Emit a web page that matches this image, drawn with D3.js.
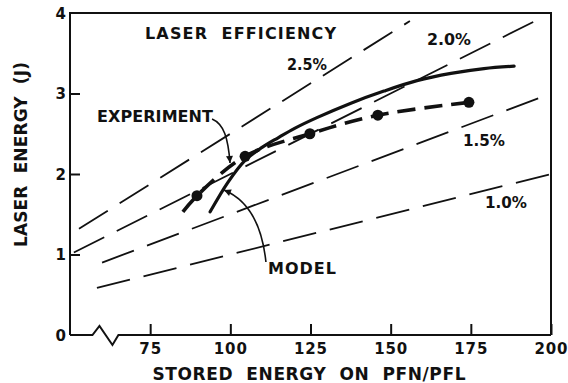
<!DOCTYPE html>
<html>
<head>
<meta charset="utf-8">
<script src="https://cdn.jsdelivr.net/npm/d3@7/dist/d3.min.js"></script>
<style>
  html, body { margin: 0; padding: 0; background: #fff; }
  svg { display: block; }
  text { font-family: "DejaVu Sans", "Liberation Sans", Arial, sans-serif; font-weight: bold; fill: #111; }
</style>
</head>
<body>
<svg id="chart" width="568" height="383"></svg>
<script>
// Stored energy on PFN/PFL (x) vs laser energy in joules (y)

// Constant-efficiency reference lines: E_laser = efficiency * E_stored
const efficiencies = [2.5, 2.0, 1.5, 1.0];          // percent
const effLabels    = ["2.5%", "2.0%", "1.5%", "1.0%"];
const effStart     = [52.8, 51.2, 60.0, 58.4];       // stored energy where each line begins
const effEnd       = [156.0, 196.5, 196.5, 200.0];   // stored energy where each line ends

// Measured points
const expStored = [89.6, 104.6, 124.8, 146.0, 174.4];
const expEnergy = [1.73, 2.22, 2.50, 2.73, 2.89];

// Dashed trend through the measurements (starts a little before the first point)
const expFitStored = [85.2, 89.6, 104.6, 124.8, 146.0, 174.4];
const expFitEnergy = [1.53, 1.73, 2.22, 2.50, 2.73, 2.89];

// Model prediction
const modelStored = [93.7, 99.3, 104.6, 109.9, 114.9, 120.2, 127.0, 137.6, 147.9, 158.2, 168.8, 179.1, 188.5];
const modelEnergy = [1.53, 1.90, 2.17, 2.33, 2.45, 2.57, 2.70, 2.88, 3.03, 3.16, 3.25, 3.31, 3.34];

// Axis ticks
const xTicks = [75, 100, 125, 150, 175, 200];
const yTicks = [0, 1, 2, 3, 4];

const svg = d3.select("#chart");
const plot = { left: 70, right: 551, top: 13, bottom: 335 };

const x = d3.scaleLinear().domain([50, 200]).range([plot.left, plot.right]);
const y = d3.scaleLinear().domain([0, 4]).range([plot.bottom, plot.top]);

// arrowhead for the annotation leaders
svg.append("defs").append("marker")
  .attr("id", "arrow")
  .attr("viewBox", "0 0 10 10")
  .attr("refX", 10).attr("refY", 5)
  .attr("markerWidth", 9).attr("markerHeight", 7)
  .attr("markerUnits", "userSpaceOnUse")
  .attr("orient", "auto")
  .append("path")
  .attr("d", "M0,0 L10,5 L0,10 Z")
  .attr("fill", "#111");

// frame: left, top and right sides
svg.append("path")
  .attr("d", `M${plot.left},${plot.bottom} L${plot.left},${plot.top} L${plot.right},${plot.top} L${plot.right},${plot.bottom}`)
  .attr("fill", "none").attr("stroke", "#111").attr("stroke-width", 2);

// bottom axis with a break between the origin and 75
const breakFrom = 57.0, breakTo = 65.1;
const bx0 = x(breakFrom), bx1 = x(breakTo);
const bw = bx1 - bx0;
const yb = plot.bottom;
svg.append("path")
  .attr("d", `M${plot.left},${yb} L${bx0},${yb} L${bx0 + bw * 0.27},${yb - 9} L${bx0 + bw * 0.77},${yb + 10} L${bx1},${yb} L${plot.right},${yb}`)
  .attr("fill", "none").attr("stroke", "#111").attr("stroke-width", 2)
  .attr("stroke-linejoin", "miter");

// inward ticks
const xAxis = d3.axisBottom(x).tickValues(xTicks).tickSize(-11).tickFormat("");
svg.append("g").attr("transform", `translate(0,${plot.bottom})`).call(xAxis)
  .call(g => g.select(".domain").remove())
  .call(g => g.selectAll(".tick line").attr("stroke", "#111").attr("stroke-width", 2));

const yAxis = d3.axisLeft(y).tickValues(yTicks.filter(v => v > 0 && v < 4)).tickSize(-10).tickFormat("");
svg.append("g").attr("transform", `translate(${plot.left},0)`).call(yAxis)
  .call(g => g.select(".domain").remove())
  .call(g => g.selectAll(".tick line").attr("stroke", "#111").attr("stroke-width", 2));

// tick labels
svg.append("g").selectAll("text").data(xTicks).join("text")
  .attr("x", d => x(d)).attr("y", plot.bottom + 19)
  .attr("text-anchor", "middle")
  .attr("font-size", 15)
  .attr("textLength", d => String(d).length === 2 ? 22 : 33)
  .attr("lengthAdjust", "spacing")
  .text(d => d);

svg.append("g").selectAll("text").data(yTicks).join("text")
  .attr("x", plot.left - 4).attr("y", d => y(d) + 5.5)
  .attr("text-anchor", "end")
  .attr("font-size", 15)
  .text(d => d);

// axis titles
svg.append("text")
  .attr("x", 309).attr("y", 380)
  .attr("text-anchor", "middle")
  .attr("font-size", 17)
  .attr("textLength", 313).attr("lengthAdjust", "spacing")
  .style("white-space", "pre")
  .text("STORED  ENERGY  ON  PFN/PFL");

svg.append("text")
  .attr("transform", "translate(27,154.5) rotate(-90)")
  .attr("text-anchor", "middle")
  .attr("font-size", 17)
  .attr("textLength", 185).attr("lengthAdjust", "spacing")
  .style("white-space", "pre")
  .text("LASER  ENERGY  (J)");

// constant-efficiency lines
const effRows = efficiencies.map((e, i) => ({ e, s0: effStart[i], s1: effEnd[i] }));
svg.append("g").selectAll("line").data(effRows).join("line")
  .attr("x1", d => x(d.s0)).attr("y1", d => y(d.s0 * d.e / 100))
  .attr("x2", d => x(d.s1)).attr("y2", d => y(d.s1 * d.e / 100))
  .attr("stroke", "#111").attr("stroke-width", 1.8)
  .attr("stroke-dasharray", "34,14");

// efficiency labels
const effLabelPos = [
  { x: 307, y: 70, w: 40 },
  { x: 449, y: 45, w: 44 },
  { x: 484, y: 146, w: 42 },
  { x: 506, y: 208, w: 42 }
];
svg.append("g").selectAll("text").data(effLabels).join("text")
  .attr("x", (d, i) => effLabelPos[i].x).attr("y", (d, i) => effLabelPos[i].y)
  .attr("text-anchor", "middle")
  .attr("font-size", 15)
  .attr("textLength", (d, i) => effLabelPos[i].w).attr("lengthAdjust", "spacingAndGlyphs")
  .text(d => d);

svg.append("text")
  .attr("x", 145).attr("y", 39)
  .attr("font-size", 16)
  .attr("textLength", 191).attr("lengthAdjust", "spacing")
  .style("white-space", "pre")
  .text("LASER  EFFICIENCY");

// model curve
const model = modelStored.map((s, i) => [s, modelEnergy[i]]);
const curve = d3.line().x(d => x(d[0])).y(d => y(d[1])).curve(d3.curveCatmullRom.alpha(0.5));
svg.append("path").datum(model)
  .attr("d", curve)
  .attr("fill", "none").attr("stroke", "#111").attr("stroke-width", 3.2)
  .attr("stroke-linecap", "round");

// experimental trend and points
const expFit = expFitStored.map((s, i) => [s, expFitEnergy[i]]);
svg.append("path").datum(expFit)
  .attr("d", curve)
  .attr("fill", "none").attr("stroke", "#111").attr("stroke-width", 3.6)
  .attr("stroke-dasharray", "18,9");

svg.append("g").selectAll("circle").data(expStored.map((s, i) => [s, expEnergy[i]])).join("circle")
  .attr("cx", d => x(d[0])).attr("cy", d => y(d[1]))
  .attr("r", 5.5).attr("fill", "#111");

// annotations
svg.append("text")
  .attr("x", 97).attr("y", 122)
  .attr("font-size", 16)
  .attr("textLength", 116).attr("lengthAdjust", "spacing")
  .text("EXPERIMENT");

svg.append("text")
  .attr("x", 268).attr("y", 274)
  .attr("font-size", 16)
  .attr("textLength", 68).attr("lengthAdjust", "spacing")
  .text("MODEL");

const bez = pts => `M${x(pts[0][0])},${y(pts[0][1])} C${x(pts[1][0])},${y(pts[1][1])} ${x(pts[2][0])},${y(pts[2][1])} ${x(pts[3][0])},${y(pts[3][1])}`;

svg.append("path")
  .attr("d", bez([[94.3, 2.683], [98.0, 2.621], [99.3, 2.447], [99.9, 2.137]]))
  .attr("fill", "none").attr("stroke", "#111").attr("stroke-width", 1.6)
  .attr("marker-end", "url(#arrow)");

svg.append("path")
  .attr("d", bez([[111.1, 0.907], [109.9, 1.366], [105.5, 1.677], [98.0, 1.801]]))
  .attr("fill", "none").attr("stroke", "#111").attr("stroke-width", 1.6)
  .attr("marker-end", "url(#arrow)");
</script>
</body>
</html>
